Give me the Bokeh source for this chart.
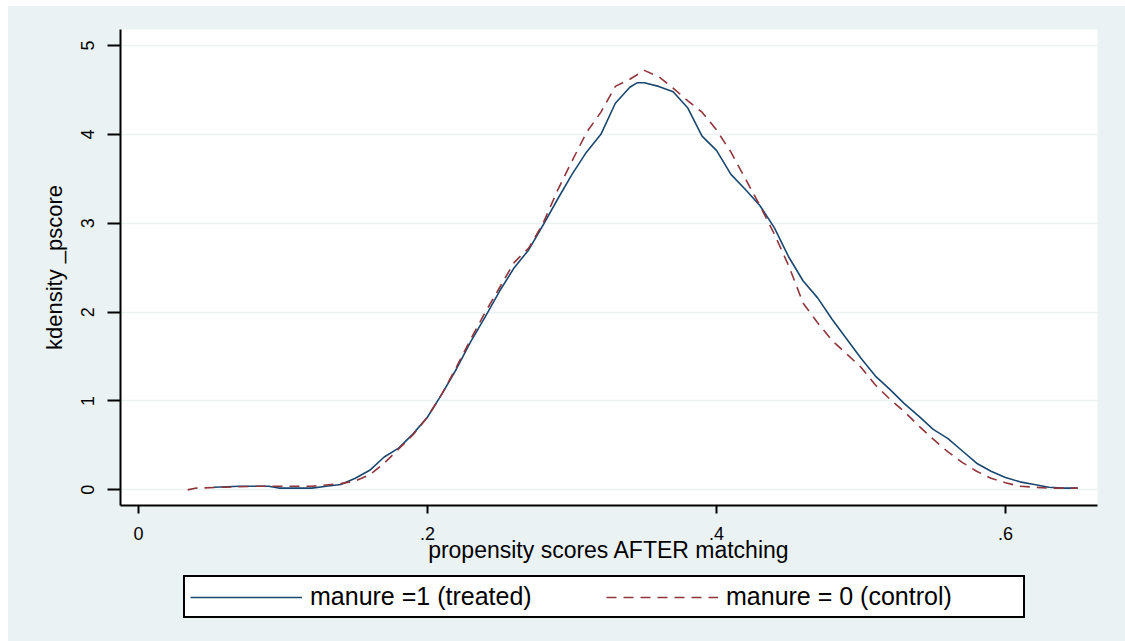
from bokeh.plotting import figure
from bokeh.layouts import column
from bokeh.models import FixedTicker, Legend, LegendItem, Range1d
from bokeh.embed import file_html
from bokeh.resources import INLINE

# ---- data ----
treated_x = [0.052, 0.07, 0.09, 0.097, 0.12, 0.13, 0.14, 0.15, 0.16, 0.17, 0.18, 0.19, 0.20,
             0.21, 0.22, 0.23, 0.24, 0.25, 0.26, 0.27, 0.28, 0.29, 0.30, 0.31, 0.32, 0.33,
             0.34, 0.345, 0.35, 0.36, 0.37, 0.38, 0.39, 0.40, 0.41, 0.42, 0.43, 0.44, 0.45,
             0.46, 0.47, 0.48, 0.49, 0.50, 0.51, 0.52, 0.53, 0.54, 0.55, 0.56, 0.57, 0.58,
             0.59, 0.60, 0.61, 0.62, 0.63, 0.64, 0.65]
treated_y = [0.03, 0.04, 0.04, 0.02, 0.02, 0.04, 0.06, 0.13, 0.22, 0.37, 0.47, 0.63, 0.82,
             1.08, 1.36, 1.67, 1.95, 2.24, 2.50, 2.70, 2.98, 3.27, 3.55, 3.80, 4.00, 4.35,
             4.53, 4.58, 4.58, 4.54, 4.48, 4.30, 3.98, 3.82, 3.55, 3.38, 3.20, 2.95, 2.62,
             2.35, 2.16, 1.92, 1.70, 1.48, 1.28, 1.13, 0.97, 0.83, 0.68, 0.58, 0.44, 0.30,
             0.21, 0.14, 0.09, 0.06, 0.03, 0.02, 0.02]

control_x = [0.034, 0.04, 0.06, 0.08, 0.10, 0.12, 0.14, 0.15, 0.16, 0.17, 0.18, 0.19, 0.20,
             0.21, 0.22, 0.23, 0.24, 0.25, 0.26, 0.27, 0.28, 0.29, 0.30, 0.31, 0.32, 0.33,
             0.34, 0.35, 0.36, 0.37, 0.38, 0.39, 0.40, 0.41, 0.42, 0.43, 0.44, 0.45, 0.46,
             0.47, 0.48, 0.49, 0.50, 0.51, 0.52, 0.53, 0.54, 0.55, 0.56, 0.57, 0.58, 0.59,
             0.60, 0.61, 0.62, 0.63, 0.65]
control_y = [0.00, 0.02, 0.03, 0.04, 0.04, 0.04, 0.07, 0.10, 0.17, 0.30, 0.46, 0.62, 0.82,
             1.08, 1.38, 1.70, 2.00, 2.28, 2.56, 2.72, 3.00, 3.37, 3.70, 4.02, 4.25, 4.54,
             4.62, 4.72, 4.65, 4.52, 4.38, 4.25, 4.05, 3.80, 3.50, 3.20, 2.88, 2.52, 2.10,
             1.88, 1.68, 1.53, 1.38, 1.18, 1.02, 0.88, 0.72, 0.57, 0.43, 0.31, 0.21, 0.13,
             0.08, 0.04, 0.03, 0.02, 0.02]

x_ticks = [0, 0.2, 0.4, 0.6]
x_tick_labels = ["0", ".2", ".4", ".6"]
y_ticks = [0, 1, 2, 3, 4, 5]
y_tick_labels = ["0", "1", "2", "3", "4", "5"]

label_treated = "manure =1 (treated)"
label_control = "manure = 0 (control)"
x_title = "propensity scores AFTER matching"
y_title = "kdensity _pscore"

BG = "#eaf2f3"
BLUE = "#1a476f"
RED = "#90353b"
FONT = "Liberation Sans"
DASH = "10 7"

# ---- main plot ----
p = figure(width=1117, height=559, output_backend="svg", toolbar_location=None,
           x_range=Range1d(-0.0125, 0.6637), y_range=Range1d(-0.176, 5.18),
           min_border_left=112, min_border_right=28, min_border_top=23,
           min_border_bottom=59)
p.background_fill_color = "white"
p.border_fill_color = BG
p.outline_line_color = None

p.xgrid.visible = False
p.ygrid.grid_line_color = BG
p.ygrid.grid_line_width = 1.5
p.ygrid.ticker = FixedTicker(ticks=y_ticks)

p.xaxis.ticker = FixedTicker(ticks=x_ticks)
p.xaxis.major_label_overrides = {t: l for t, l in zip(x_ticks, x_tick_labels)}
p.yaxis.ticker = FixedTicker(ticks=y_ticks)
p.yaxis.major_label_overrides = {t: l for t, l in zip(y_ticks, y_tick_labels)}
for ax in (p.xaxis[0], p.yaxis[0]):
    ax.axis_line_color = "black"
    ax.axis_line_width = 2
    ax.major_tick_line_color = "black"
    ax.major_tick_line_width = 2
    ax.major_tick_in = 0
    ax.minor_tick_line_color = None
    ax.major_label_text_font = FONT
    ax.major_label_text_font_size = "18px"
    ax.major_label_text_color = "black"
    ax.axis_label_text_font = FONT
    ax.axis_label_text_font_style = "normal"
    ax.axis_label_text_color = "black"
p.xaxis.axis_label_text_font_size = "23px"
p.yaxis.axis_label_text_font_size = "22px"
p.xaxis.major_tick_out = 8
p.yaxis.major_tick_out = 13
p.yaxis.major_label_orientation = "vertical"
p.xaxis.major_label_standoff = 13
p.yaxis.major_label_standoff = 13
p.xaxis.axis_label = x_title
p.yaxis.axis_label = y_title
p.xaxis.axis_label_standoff = -6
p.yaxis.axis_label_standoff = 12

p.line(treated_x, treated_y, line_color=BLUE, line_width=1.6)
p.line(control_x, control_y, line_color=RED, line_width=1.6, line_dash=DASH)

# ---- legend strip below the plot (same series, drawn out of view; only the key shows) ----
lg = figure(width=1117, height=76, output_backend="svg", toolbar_location=None,
            x_axis_location=None, y_axis_location=None,
            min_border_left=112, min_border_right=28, min_border_top=0, min_border_bottom=0,
            x_range=Range1d(0, 1), y_range=Range1d(10, 11))
lg.background_fill_color = BG
lg.background_fill_alpha = 0
lg.border_fill_color = BG
lg.border_fill_alpha = 0
lg.outline_line_color = None
lg.grid.visible = False
k1 = lg.line(treated_x, treated_y, line_color=BLUE, line_width=1.6)
k2 = lg.line(control_x, control_y, line_color=RED, line_width=1.6, line_dash=DASH)

legend = Legend(items=[LegendItem(label=label_treated, renderers=[k1]),
                       LegendItem(label=label_control, renderers=[k2])],
                orientation="horizontal", location=(63, 23))
legend.border_line_color = "black"
legend.border_line_alpha = 1
legend.border_line_width = 2
legend.background_fill_color = "white"
legend.background_fill_alpha = 1
legend.label_text_font = FONT
legend.label_text_font_size = "25px"
legend.label_text_color = "black"
legend.glyph_width = 112
legend.glyph_height = 18
legend.label_standoff = 8
legend.label_width = 292
legend.spacing = 4
legend.padding = 5
legend.margin = 0
lg.add_layout(legend, "center")

layout = column(p, lg, spacing=0)
layout.margin = (6, 0, 0, 8)
layout.styles = {"background-color": BG}

open("out.html", "w").write(file_html(layout, INLINE))
